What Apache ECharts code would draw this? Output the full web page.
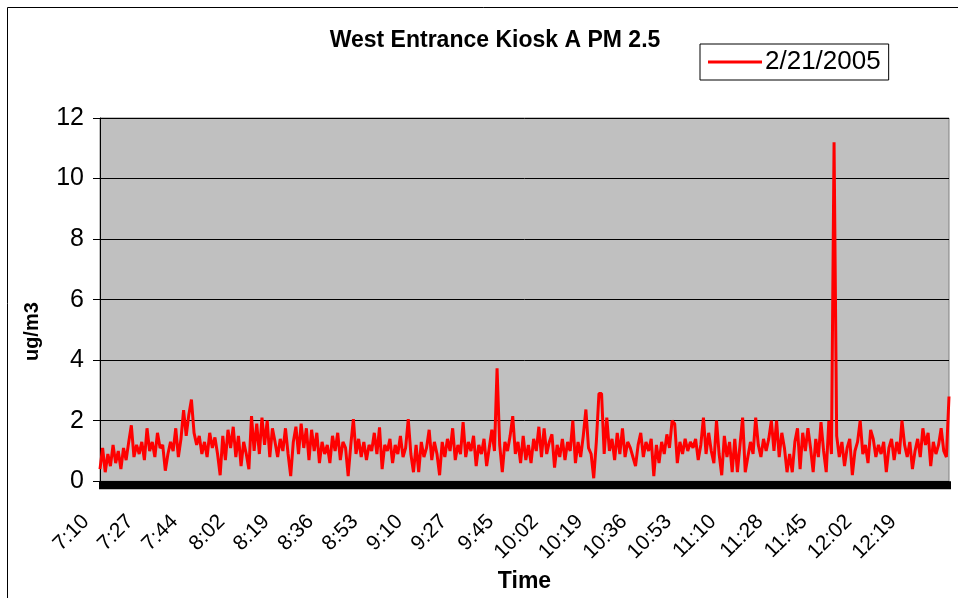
<!DOCTYPE html>
<html><head><meta charset="utf-8">
<script src="https://cdn.jsdelivr.net/npm/echarts@6/dist/echarts.min.js"></script>
<style>html,body{margin:0;padding:0;background:#fff;}#c{width:958px;height:598px;}</style>
</head><body><div id="c"></div>
<script>
const chartTitle = 'West Entrance Kiosk A PM 2.5';
const seriesName = '2/21/2005';
const xAxisName = 'Time';
const yAxisName = 'ug/m3';
const startMinute = 7 * 60 + 10; // first sample 7:10, one sample per minute
const tickLabels = ['7:10','7:27','7:44','8:02','8:19','8:36','8:53','9:10','9:27','9:45',
  '10:02','10:19','10:36','10:53','11:10','11:28','11:45','12:02','12:19'];
const yMin = 0, yMax = 12, yStep = 2;
const pm25 = [
  0.4, 1.1, 0.3, 0.9, 0.5, 1.2, 0.6, 1.0, 0.4, 1.1,
  0.7, 1.3, 1.85, 0.8, 1.2, 0.9, 1.3, 0.7, 1.75, 1.0,
  1.3, 0.8, 1.6, 1.1, 1.2, 0.35, 0.9, 1.3, 1.0, 1.75,
  0.8, 1.4, 2.35, 1.5, 2.2, 2.7, 1.6, 1.2, 1.5, 0.9,
  1.3, 0.8, 1.6, 1.1, 1.45, 0.9, 0.2, 1.5, 0.7, 1.7,
  1.1, 1.8, 0.8, 1.5, 0.5, 1.3, 0.9, 0.4, 2.15, 1.0,
  1.9, 0.9, 2.1, 1.2, 2.0, 0.8, 1.75, 1.3, 0.8, 1.4,
  1.0, 1.75, 0.9, 0.17, 1.3, 1.8, 0.9, 1.9, 1.1, 1.75,
  0.7, 1.7, 1.0, 1.6, 0.6, 1.3, 0.9, 1.2, 0.6, 1.5,
  1.0, 1.6, 0.7, 1.3, 1.1, 0.17, 1.2, 2.05, 0.9, 1.4,
  0.8, 1.3, 0.7, 1.2, 1.0, 1.6, 0.9, 1.78, 0.4, 1.2,
  1.0, 1.4, 0.6, 1.2, 0.9, 1.5, 0.8, 1.1, 2.05, 0.9,
  0.3, 1.2, 0.3, 1.3, 0.8, 1.1, 1.7, 0.7, 1.3, 0.9,
  0.2, 1.3, 0.8, 1.4, 1.0, 1.75, 0.7, 1.2, 0.9, 1.95,
  0.8, 1.3, 1.0, 1.5, 0.5, 1.2, 0.9, 1.4, 0.5, 1.1,
  1.7, 1.0, 3.73, 1.2, 0.3, 1.3, 1.0, 1.5, 2.15, 0.9,
  1.3, 0.6, 1.5, 0.7, 1.2, 0.6, 1.4, 1.0, 1.8, 0.8,
  1.75, 0.9, 1.3, 1.55, 0.45, 1.2, 0.8, 1.4, 0.7, 1.3,
  1.0, 2.0, 0.6, 1.3, 0.8, 1.5, 2.37, 1.1, 0.9, 0.1,
  1.3, 2.9, 2.9, 0.9, 2.1, 1.0, 1.4, 0.7, 1.6, 0.9,
  1.75, 0.8, 1.3, 1.1, 0.8, 0.5, 1.2, 1.6, 0.8, 1.3,
  1.0, 1.4, 0.17, 1.2, 0.6, 1.3, 0.9, 1.55, 1.1, 2.0,
  1.9, 0.6, 1.3, 0.9, 1.4, 1.0, 1.3, 1.1, 1.4, 0.7,
  1.2, 2.1, 0.9, 1.6, 1.0, 0.6, 2.0, 0.9, 0.2, 1.5,
  0.8, 1.3, 0.3, 1.4, 0.3, 1.2, 2.1, 0.3, 0.8, 1.3,
  0.9, 2.1, 1.2, 0.8, 1.4, 1.0, 1.4, 2.0, 1.0, 2.0,
  0.8, 1.6, 1.1, 0.3, 0.9, 0.3, 1.3, 1.75, 0.4, 1.6,
  1.0, 1.75, 1.1, 0.3, 1.4, 0.8, 1.95, 1.0, 0.3, 2.0,
  0.9, 11.2, 1.5, 0.8, 1.3, 0.5, 1.1, 1.4, 0.2, 1.0,
  1.3, 2.0, 0.9, 1.2, 0.6, 1.7, 1.4, 0.8, 1.2, 0.9,
  1.3, 0.3, 1.1, 1.4, 0.7, 1.3, 0.9, 2.0, 1.2, 0.8,
  1.3, 0.4, 1.0, 1.4, 0.8, 1.75, 1.2, 1.6, 0.5, 1.3,
  0.9, 1.2, 1.75, 1.0, 0.8, 2.8
];
const categories = pm25.map(function (_, i) {
  const m = startMinute + i;
  return Math.floor(m / 60) + ':' + String(m % 60).padStart(2, '0');
});

const FONT = "'Liberation Sans', Arial, sans-serif";
const chart = echarts.init(document.getElementById('c'), null, { renderer: 'canvas' });
chart.setOption({
  animation: false,
  backgroundColor: '#ffffff',
  graphic: [{
    type: 'rect', shape: { x: 7.5, y: 7.5, width: 1000, height: 1000 },
    style: { fill: 'none', stroke: '#000', lineWidth: 1 }, silent: true, z: -1
  }],
  title: {
    text: chartTitle, left: 490, top: 24, textAlign: 'center',
    textStyle: { fontFamily: FONT, fontSize: 23, fontWeight: 'bold', color: '#000' }
  },
  legend: {
    data: [{ name: seriesName, icon: 'rect' }], left: 700, top: 44, orient: 'vertical',
    backgroundColor: '#fff', borderColor: '#000', borderWidth: 1,
    padding: [5, 8, 5, 8], itemWidth: 54, itemHeight: 3, itemGap: 0,
    textStyle: { fontFamily: FONT, fontSize: 26, color: '#000', padding: [0, 0, 0, -2] }
  },
  grid: {
    left: 100, right: 9, top: 118, bottom: 116, show: true,
    backgroundColor: '#c0c0c0', borderColor: '#808080', borderWidth: 1
  },
  xAxis: {
    type: 'category', data: categories, boundaryGap: false,
    name: xAxisName, nameLocation: 'middle', nameGap: 84,
    nameTextStyle: { fontFamily: FONT, fontSize: 23, fontWeight: 'bold', color: '#000' },
    axisLine: { show: true, lineStyle: { color: '#000', width: 1 } },
    axisTick: { show: true, interval: 0, length: 8, lineStyle: { color: '#000', width: 3 } },
    axisLabel: {
      interval: function (idx, val) { return tickLabels.indexOf(val) >= 0; },
      rotate: 45, margin: 23, padding: [0, 20, 0, 0],
      fontFamily: FONT, fontSize: 21, color: '#000'
    },
    splitLine: { show: false }
  },
  yAxis: {
    type: 'value', min: yMin, max: yMax, interval: yStep,
    name: yAxisName, nameLocation: 'middle', nameGap: 58,
    nameTextStyle: { fontFamily: FONT, fontSize: 20, fontWeight: 'bold', color: '#000', padding: [0, 64, 0, 0] },
    axisLine: { show: true, lineStyle: { color: '#000', width: 1 } },
    axisTick: { show: true, length: 7, lineStyle: { color: '#000' } },
    axisLabel: { margin: 16, fontFamily: FONT, fontSize: 25, color: '#000' },
    splitLine: { show: true, lineStyle: { color: '#000', width: 1 } }
  },
  series: [{
    name: seriesName, type: 'line', data: pm25,
    symbol: 'none', showSymbol: false,
    lineStyle: { color: '#ff0000', width: 3 }, itemStyle: { color: '#ff0000' }
  }]
});
</script></body></html>
